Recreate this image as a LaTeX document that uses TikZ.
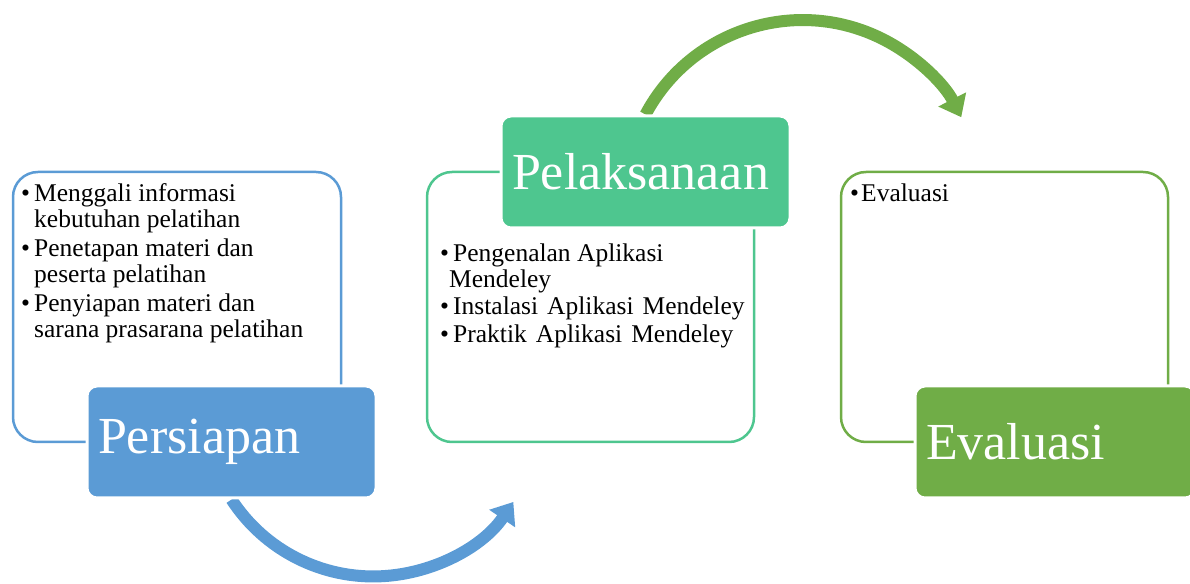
\documentclass[tikz,border=0pt]{standalone}
\usepackage{fontspec}
\setmainfont{Liberation Serif}
\usetikzlibrary{arrows.meta,backgrounds}
\definecolor{persblue}{HTML}{5B9BD5}
\definecolor{pelgreen}{HTML}{4EC68F}
\definecolor{evalgreen}{HTML}{70AD47}
\newcommand{\bul}{\makebox[13pt][l]{\textbullet}}
\newcommand{\ind}[1]{\hspace*{#1}}

\begin{document}
\begin{tikzpicture}[x=1pt, y=1pt,
    outline/.style={draw=#1, line width=2.5pt, rounded corners=25pt},
    stage/.style={fill=#1, draw=white, line width=3pt, rounded corners=10pt,
        text=white, font=\fontsize{52}{60}\selectfont, align=left,
        minimum height=112pt, inner xsep=11pt},
    items/.style={font=\fontsize{25.5}{26}\selectfont, align=left,
        anchor=base west, inner sep=0pt},
    turnarrow/.style={draw=#1, line width=12pt,
        -{Triangle[width=30pt, length=20pt]}}]
    \useasboundingbox (0,0) rectangle (1190,583);

    % outlines
    \draw[outline=persblue] (13,141) rectangle (341,411);
    \draw[outline=pelgreen] (427,141) rectangle (754,411);
    \draw[outline=evalgreen] (841,141) rectangle (1168,411);

    % stages
    \node[stage=persblue, text width=267pt] (pers) at (231.5,141) {Persiapan};
    \node[stage=pelgreen, text width=267pt] (pel) at (645.5,411) {Pelaksanaan};
    \node[stage=evalgreen, text width=258pt] (eval) at (1055,141) {Evaluasi};

    % item lists (anchored at the last line)
    \node[items] (persitems) at (21,245) {\bul Menggali informasi\\
        \ind{13pt}kebutuhan pelatihan\\[3pt]
        \bul Penetapan materi dan\\
        \ind{13pt}peserta pelatihan\\[3pt]
        \bul Penyiapan materi dan\\
        \ind{13pt}sarana prasarana pelatihan};
    \node[items] (pelitems) at (440,240) {\bul Pengenalan Aplikasi\\
        \ind{9pt}Mendeley\\[1pt]
        \bul Instalasi\hspace{9pt}Aplikasi\hspace{9pt}Mendeley\\[2pt]
        \bul Praktik\hspace{9pt}Aplikasi\hspace{9pt}Mendeley};
    \node[items] (evalitems) at (850,381) {\makebox[11pt][l]{\textbullet}Evaluasi};

    % arrows between stages
    \begin{scope}[on background layer]
        \draw[turnarrow=persblue] (pers.south)
            arc[start angle=213, end angle=326, radius=169];
        \draw[turnarrow=evalgreen] (pel.north)
            arc[start angle=152, end angle=27, radius=178];
    \end{scope}
\end{tikzpicture}
\end{document}
